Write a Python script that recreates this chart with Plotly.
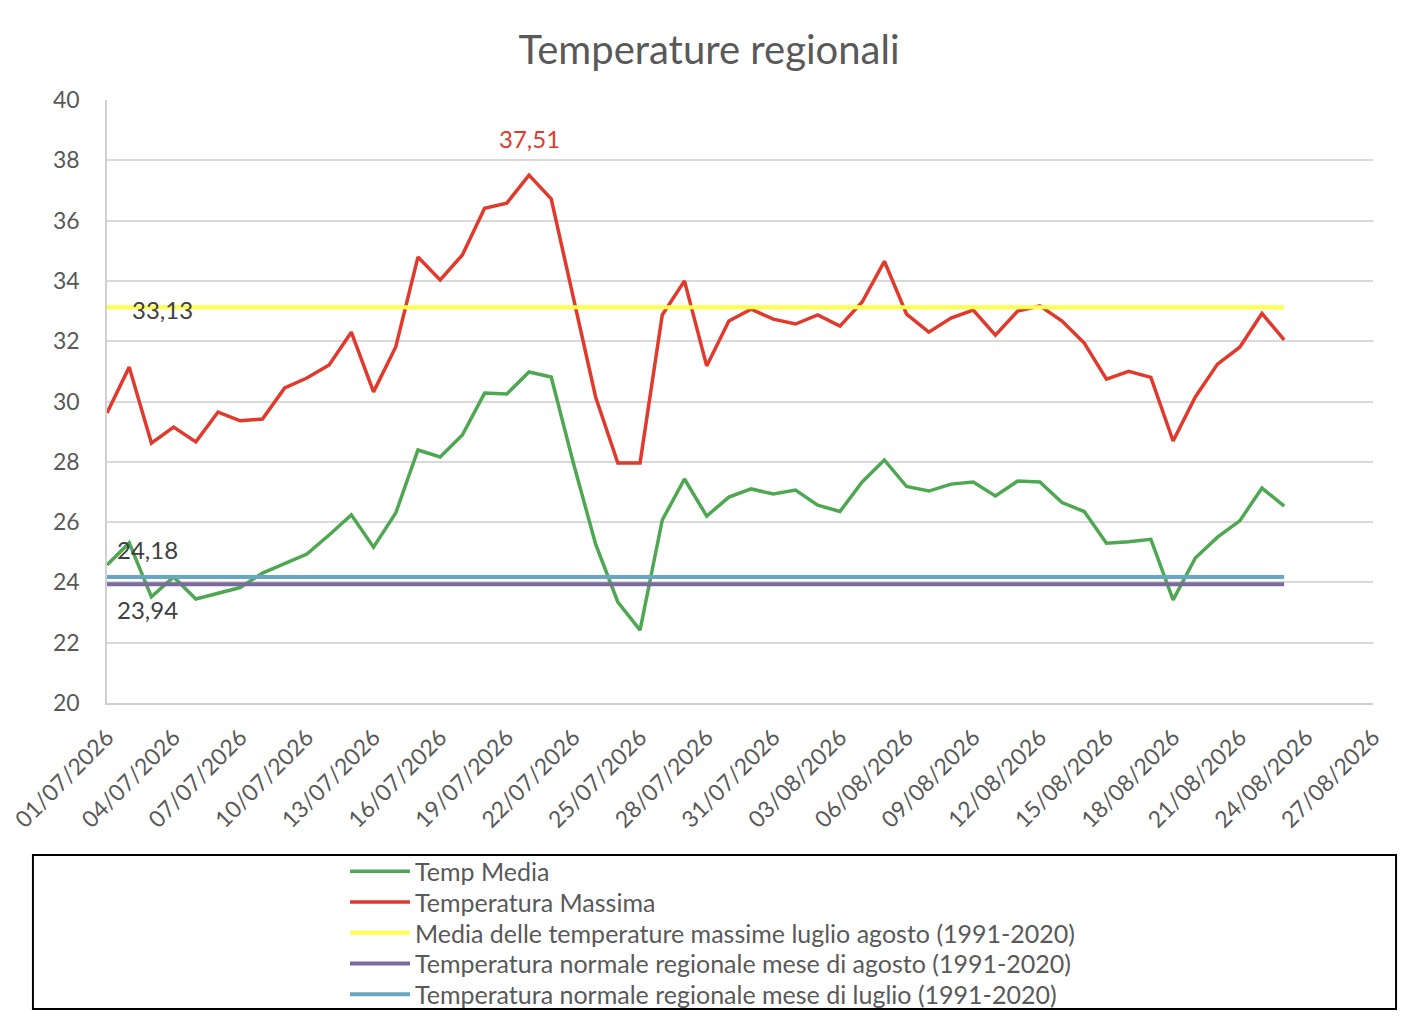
import pandas as pd
import plotly.graph_objects as go

# daily regional values, 01/07/2026 -> 23/08/2026
start_date = '2026-07-01'

temp_media = [
    24.58, 25.31, 23.52, 24.18, 23.45, 23.65, 23.83, 24.31, 24.61, 24.94,
    25.57, 26.24, 25.17, 26.30, 28.39, 28.16, 28.89, 30.28, 30.25, 30.98,
    30.81, 27.95, 25.27, 23.35, 22.42, 26.07, 27.43, 26.20, 26.83, 27.10,
    26.93, 27.06, 26.56, 26.35, 27.33, 28.06, 27.18, 27.03, 27.26, 27.33,
    26.87, 27.36, 27.33, 26.65, 26.35, 25.30, 25.35, 25.43, 23.42, 24.81,
    25.50, 26.04, 27.13, 26.53,
]

temp_massima = [
    29.62, 31.14, 28.62, 29.15, 28.66, 29.65, 29.36, 29.42, 30.45, 30.78,
    31.21, 32.30, 30.32, 31.81, 34.79, 34.03, 34.86, 36.41, 36.58, 37.51,
    36.72, 33.40, 30.15, 27.96, 27.96, 32.87, 34.00, 31.18, 32.67, 33.06,
    32.73, 32.57, 32.87, 32.50, 33.30, 34.65, 32.90, 32.30, 32.77, 33.03,
    32.20, 33.00, 33.17, 32.67, 31.94, 30.74, 31.00, 30.80, 28.69, 30.15,
    31.24, 31.80, 32.92, 32.04,
]

media_max_lug_ago = 33.13
normale_agosto = 23.94
normale_luglio = 24.18

series_names = [
    'Temp Media',
    'Temperatura Massima',
    'Media delle temperature massime luglio agosto (1991-2020)',
    'Temperatura normale regionale mese di agosto (1991-2020)',
    'Temperatura normale regionale mese di luglio (1991-2020)',
]
series_colors = ['#4ea852', '#e2392d', '#ffff4a', '#7a6a9e', '#68a7bf']

dates = pd.date_range(start_date, periods=len(temp_media), freq='D')
n = len(dates)

GREY = '#595959'
FONT = 'Lato'

series_values = [
    temp_media,
    temp_massima,
    [media_max_lug_ago] * n,
    [normale_agosto] * n,
    [normale_luglio] * n,
]
widths = [3.5, 3.5, 4, 4, 4]

fig = go.Figure()
for k, (name, vals) in enumerate(zip(series_names, series_values)):
    fig.add_trace(go.Scatter(
        x=dates, y=vals, name=name, mode='lines',
        line=dict(color=series_colors[k], width=widths[k]),
        legend='legend' if k == 0 else f'legend{k + 1}',
    ))


def fmt(v):
    return f'{v:.2f}'.replace('.', ',')


# data labels
i_max = temp_massima.index(max(temp_massima))
labels = [
    dict(x=dates[i_max], y=temp_massima[i_max], text=fmt(temp_massima[i_max]),
         color='#e2392d', xanchor='center', xshift=0, yshift=37),
    dict(x=dates[0], y=media_max_lug_ago, text=fmt(media_max_lug_ago),
         color='#404040', xanchor='left', xshift=23, yshift=-2),
    dict(x=dates[0], y=normale_luglio, text=fmt(normale_luglio),
         color='#404040', xanchor='left', xshift=8, yshift=27),
    dict(x=dates[0], y=normale_agosto, text=fmt(normale_agosto),
         color='#404040', xanchor='left', xshift=8, yshift=-25),
]
for lab in labels:
    fig.add_annotation(x=lab['x'], y=lab['y'], text=lab['text'], showarrow=False,
                       xanchor=lab['xanchor'], yanchor='middle',
                       xshift=lab['xshift'], yshift=lab['yshift'],
                       font=dict(family=FONT, size=24, color=lab['color']))

# legend frame
fig.add_shape(type='rect', xref='paper', yref='paper',
              x0=-0.0585, x1=1.0182, y0=-0.5075, y1=-0.2521,
              line=dict(color='black', width=2), fillcolor='rgba(0,0,0,0)')

# one legend per row so the row spacing matches the original
legends = {}
for k in range(len(series_names)):
    row_y = 871.5 + 30.75 * k          # row centre, px from top of page
    key = 'legend' if k == 0 else f'legend{k + 1}'
    legends[key] = dict(x=0.188, y=(703 - row_y) / 603, xanchor='left', yanchor='middle',
                        itemwidth=60, bgcolor='rgba(0,0,0,0)', borderwidth=0,
                        font=dict(family=FONT, size=25, color=GREY))

fig.update_layout(
    width=1402,
    height=1026,
    margin=dict(l=99, r=37, t=92, b=331),
    paper_bgcolor='white',
    plot_bgcolor='white',
    font=dict(family=FONT, color=GREY),
    title=dict(text='Temperature regionali', x=0.5, xanchor='center',
               y=1 - 42 / 1026, yanchor='middle',
               font=dict(family=FONT, size=40, color=GREY)),
    showlegend=True,
    **legends,
    xaxis=dict(type='date', range=['2026-07-01', '2026-08-27'],
               tick0='2026-07-01', dtick=3 * 86400000, tickformat='%d/%m/%Y',
               tickangle=-45, showgrid=False, zeroline=False,
               showline=True, linecolor='#d0d0d0', linewidth=1.5,
               ticks='', ticklabelstandoff=10, automargin=False,
               tickfont=dict(family=FONT, size=23, color=GREY)),
    yaxis=dict(range=[20, 40], dtick=2, showgrid=True, gridcolor='#d9d9d9',
               gridwidth=1.5, zeroline=False, showline=True, linecolor='#d0d0d0',
               linewidth=1.5, ticks='', ticklabelstandoff=21, automargin=False,
               tickfont=dict(family=FONT, size=23, color=GREY)),
)

fig.write_html('out.html')
